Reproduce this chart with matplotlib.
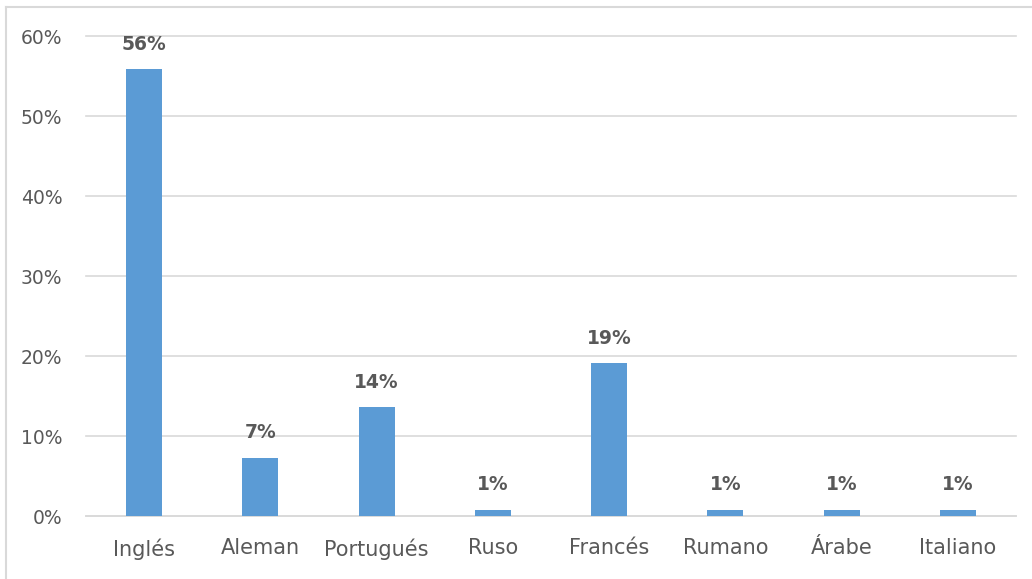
import matplotlib.pyplot as plt
from matplotlib.lines import Line2D
from matplotlib.ticker import MultipleLocator, PercentFormatter

# data
idiomas = ['Inglés', 'Aleman', 'Portugués', 'Ruso', 'Francés', 'Rumano', 'Árabe', 'Italiano']
porcentajes = [0.559, 0.073, 0.136, 0.008, 0.191, 0.008, 0.008, 0.008]

bar_color = '#5B9BD5'
text_color = '#595959'
grid_color = '#D9D9D9'

plt.rcParams['font.family'] = ['DejaVu Sans']

fig = plt.figure(figsize=(10.32, 5.79), dpi=100)
ax = fig.add_axes([0.0833, 0.1088, 0.9012, 0.829])

x = range(len(idiomas))
bars = ax.bar(x, porcentajes, width=0.31, color=bar_color, zorder=3)

# data labels
for xi, val in zip(x, porcentajes):
    ax.annotate('{:.0%}'.format(val), (xi, val), xytext=(0, 11), textcoords='offset points',
                ha='center', va='bottom', fontsize=13.5, fontweight='bold', color=text_color)

ax.set_xlim(-0.5, len(idiomas) - 0.5)
ax.set_ylim(0, 0.6)
ax.yaxis.set_major_locator(MultipleLocator(0.1))
ax.yaxis.set_major_formatter(PercentFormatter(1.0, decimals=0))
ax.set_xticks(list(x))
ax.set_xticklabels(idiomas)
ax.tick_params(axis='x', length=0, labelsize=15, colors=text_color, pad=16)
ax.tick_params(axis='y', length=0, labelsize=13.5, colors=text_color, pad=17)

ax.grid(axis='y', color=grid_color, linewidth=1.2, zorder=0)
for line in ax.get_ygridlines():
    line.set_clip_on(False)
for side in ['top', 'right', 'left']:
    ax.spines[side].set_visible(False)
ax.spines['bottom'].set_color(grid_color)
ax.spines['bottom'].set_linewidth(1.2)

# chart border (left and top visible in the reference)
fig.add_artist(Line2D([6 / 1032, 6 / 1032], [0, 1 - 7 / 579], color='#D9D9D9', linewidth=1.5))
fig.add_artist(Line2D([6 / 1032, 1], [1 - 7 / 579, 1 - 7 / 579], color='#D9D9D9', linewidth=1.5))

fig.savefig('out.png', dpi=100)
